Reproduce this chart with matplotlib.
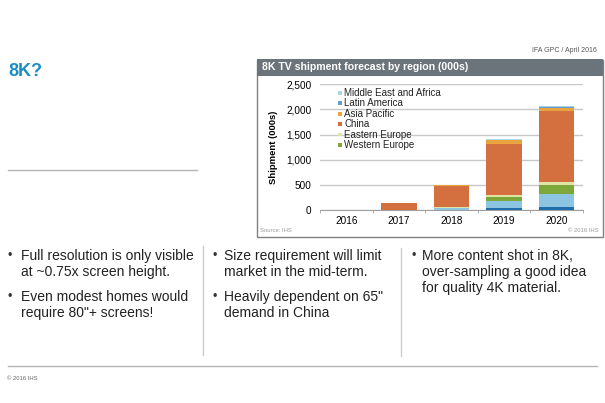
import matplotlib.pyplot as plt
import numpy as np
from matplotlib.patches import Rectangle
from matplotlib.lines import Line2D

plt.rcParams['font.family'] = ['Liberation Sans', 'DejaVu Sans']

# 8K TV shipments by region (000s)
years = ['2016', '2017', '2018', '2019', '2020']
north_america = [0, 0, 5, 40, 55]
japan = [0, 2, 30, 130, 265]
western_europe = [0, 0, 10, 90, 185]
eastern_europe = [0, 0, 10, 40, 45]
china = [0, 133, 425, 1020, 1410]
asia_pacific = [0, 0, 15, 65, 65]
latin_america = [0, 0, 3, 8, 15]
middle_east_africa = [0, 0, 2, 12, 25]

# bottom to top
series = [north_america, japan, western_europe, eastern_europe,
          china, asia_pacific, latin_america, middle_east_africa]
colors = ['#1f6dab', '#8cc5e1', '#7ea73b', '#dfe3a3',
          '#d4703f', '#e9a43f', '#5e9fcd', '#aad5e8']

legend_labels = ['Middle East and Africa', 'Latin America', 'Asia Pacific',
                 'China', 'Eastern Europe', 'Western Europe']
legend_colors = ['#aad5e8', '#5e9fcd', '#e9a43f', '#d4703f', '#dfe3a3', '#7ea73b']

# (text, starts a new bullet)
bullets_col1 = [('Full resolution is only visible', True), ('at ~0.75x screen height.', False),
                ('Even modest homes would', True), ('require 80"+ screens!', False)]
bullets_col2 = [('Size requirement will limit', True), ('market in the mid-term.', False),
                ('Heavily dependent on 65"', True), ('demand in China', False)]
bullets_col3 = [('More content shot in 8K,', True), ('over-sampling a good idea', False),
                ('for quality 4K material.', False)]

W, H = 605, 403
fig = plt.figure(figsize=(W / 100, H / 100), dpi=100)


def fx(x):
    return x / W


def fy(y):
    return 1 - y / H


def line(x0, y0, x1, y1, color, lw=1.0):
    fig.add_artist(Line2D([fx(x0), fx(x1)], [fy(y0), fy(y1)], color=color,
                          lw=lw, transform=fig.transFigure))


# slide header / footer
fig.text(fx(597), fy(50), 'IFA GPC / April 2016', ha='right', va='center',
         fontsize=5, color='#555555')
fig.text(fx(8), fy(72), '8K?', ha='left', va='center', fontsize=13,
         fontweight='bold', color='#1b8ec6')
line(8, 170, 197, 170, '#b5b5b5')
line(8, 366, 597, 366, '#b5b5b5')
line(203, 246, 203, 355, '#cccccc')
line(401, 248, 401, 356, '#cccccc')
fig.text(fx(7), fy(378), '\u00a9 2016 IHS', ha='left', va='center',
         fontsize=4.2, color='#666666')

# bullet text
for col, (bx, tx) in zip([bullets_col1, bullets_col2, bullets_col3],
                         [(8, 21), (212.5, 224), (411.5, 422.5)]):
    y = 256
    for i, (txt, new) in enumerate(col):
        if new and i > 0:
            y += 9
        if new:
            fig.text(fx(bx), fy(y), '\u2022', ha='left', va='center',
                     fontsize=9, color='#333333')
        fig.text(fx(tx), fy(y), txt, ha='left', va='center', fontsize=10,
                 color='#222222')
        y += 16

# chart panel
fig.add_artist(Rectangle((fx(257), fy(237)), fx(603) - fx(257), fy(60) - fy(237),
                         transform=fig.transFigure, facecolor='none',
                         edgecolor='#808080', lw=1))
fig.add_artist(Rectangle((fx(257), fy(76)), fx(603) - fx(257), fy(59) - fy(76),
                         transform=fig.transFigure, facecolor='#6b737b',
                         edgecolor='none'))
fig.text(fx(262), fy(67.5), '8K TV shipment forecast by region (000s)',
         ha='left', va='center', fontsize=7.6, fontweight='bold', color='white')
fig.text(fx(260), fy(231), 'Source: IHS', ha='left', va='center',
         fontsize=4.2, color='#999999')
fig.text(fx(599), fy(231), '\u00a9 2016 IHS', ha='right', va='center',
         fontsize=4.2, color='#999999')

ax = fig.add_axes([fx(320), fy(210), fx(583) - fx(320), fy(84.3) - fy(210)])
x = np.arange(len(years))
bottom = np.zeros(len(years))
for vals, c in zip(series, colors):
    ax.bar(x, vals, width=0.67, bottom=bottom, color=c, zorder=3)
    bottom += np.array(vals)

ax.set_xlim(-0.5, 4.5)
ax.set_ylim(0, 2500)
ax.set_yticks(np.arange(0, 2501, 500))
ax.set_yticklabels([f'{v:,}' for v in range(0, 2501, 500)])
ax.set_xticks(x)
ax.set_xticklabels(years)
ax.set_xticks(np.arange(-0.5, 5, 1), minor=True)
ax.tick_params(axis='x', which='major', length=0, pad=4.5, labelsize=7.2)
ax.tick_params(axis='x', which='minor', length=2, color='#a0a0a0')
ax.tick_params(axis='y', length=0, pad=6, labelsize=7.2)
ax.grid(axis='y', color='#c8c8c8', lw=1, zorder=0)
for s in ['top', 'right', 'left']:
    ax.spines[s].set_visible(False)
ax.spines['bottom'].set_color('#a0a0a0')
ax.set_ylabel('Shipment (000s)', fontsize=6.8, fontweight='bold')
ax.yaxis.set_label_coords(-0.16, 0.5)

# legend (drawn inside the plot area)
for i, (lab, c) in enumerate(zip(legend_labels, legend_colors)):
    yc = 92.7 + i * 10.45
    fig.add_artist(Rectangle((fx(338), fy(yc + 2)), fx(342) - fx(338), fy(yc - 2) - fy(yc + 2),
                             transform=fig.transFigure, facecolor=c, edgecolor='none'))
    fig.text(fx(344.5), fy(yc), lab, ha='left', va='center', fontsize=7, color='#222222')

fig.savefig('out.png', dpi=100)
